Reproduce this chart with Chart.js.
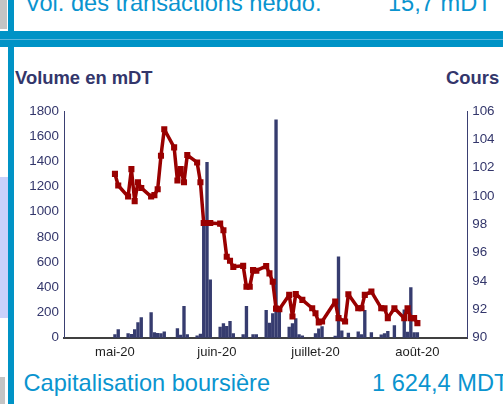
<!DOCTYPE html>
<html>
<head>
<meta charset="utf-8">
<script src="https://cdn.jsdelivr.net/npm/chart.js@4"></script>
<style>
  body { margin: 0; width: 503px; height: 404px; overflow: hidden; background: #fff; position: relative; font-family: "Liberation Sans", Arial, sans-serif; }
  .blk { position: absolute; }
  .txt { position: absolute; white-space: nowrap; line-height: 1; }
  .big { font-size: 23.6px; color: #0a94cf; }
  .ttl { font-size: 18.4px; font-weight: bold; color: #33366b; }
  #chartBox { position: absolute; left: 14px; top: 90px; width: 489px; height: 280px; }
</style>
</head>
<body>
<div class="blk" style="left:0;top:0;width:7px;height:29px;background:#c4c4c4"></div>
<div class="blk" style="left:0;top:177px;width:8px;height:141px;background:#c9d1fb"></div>
<div class="blk" style="left:0;top:377px;width:5px;height:27px;background:#c4c4c4"></div>
<div class="blk" style="left:8px;top:0;width:5.5px;height:404px;background:#0093c6"></div>
<div class="blk" style="left:0;top:31px;width:503px;height:16px;background:#0093c6"></div>
<div class="blk" style="left:0;top:38.5px;width:503px;height:1px;background:#5cb6dc"></div>

<div class="txt big" style="left:25px;top:-8px">Vol. des transactions hebdo.</div>
<div class="txt big" style="left:388px;top:-8px">15,7 mDT</div>
<div class="txt ttl" style="left:15px;top:68.5px">Volume en mDT</div>
<div class="txt ttl" style="left:446px;top:68.5px">Cours</div>
<div class="txt big" style="left:23.5px;top:372px">Capitalisation boursière</div>
<div class="txt big" style="left:372px;top:372px">1 624,4 MDT</div>

<div id="chartBox"><canvas id="chart_volumeCours" width="489" height="280"></canvas></div>

<script>
// trading days, counted from the day under the "mai-20" tick
var volumeDays = [0, 1, 4, 5, 6, 7, 8, 11, 12, 13, 14, 15, 19, 20, 21, 22, 25, 26, 27, 28, 29,
    32, 33, 34, 35, 36, 39, 40, 42, 43, 46, 47, 48, 49, 50, 53, 54, 55, 56, 57, 61, 62, 63,
    67, 68, 69, 71, 74, 75, 76, 78, 81, 82, 83, 85, 88, 89, 90, 91, 92];
var volumes = [25, 65, 33, 26, 65, 120, 160, 199, 40, 35, 32, 47, 72, 20, 249, 25, 15, 28, 920, 1392, 460,
    85, 112, 90, 130, 32, 25, 249, 25, 25, 217, 117, 191, 1730, 204, 85, 112, 151, 25, 15, 32, 70, 88,
    12, 643, 55, 36, 47, 25, 217, 41, 22, 33, 50, 97, 221, 45, 398, 41, 41];

var coursDays = [0, 1, 4, 5, 6, 7, 8, 11, 12, 13, 14, 15, 18, 19, 20, 21, 22, 25, 26, 27, 28, 29,
    32, 33, 34, 35, 36, 39, 40, 41, 42, 43, 46, 47, 48, 49, 50, 53, 54, 55, 57, 60, 61, 62, 63,
    67, 68, 70, 71, 74, 75, 76, 78, 81, 82, 83, 85, 88, 89, 90, 91, 92];
var cours = [101.56, 100.74, 99.96, 101.9, 99.64, 100.97, 100.57, 99.96, 100.06, 100.48, 102.84, 104.71,
    103.43, 101.09, 101.9, 100.97, 102.89, 102.37, 100.97, 98.09, 98.09, 98.09,
    98.05, 97.58, 95.71, 95.43, 95.0, 95.07, 93.6, 93.6, 94.77, 94.73, 95.05, 94.54, 93.95, 92.05, 92.01,
    93.02, 91.5, 93.09, 92.67, 92.08, 91.73, 91.07, 91.14,
    92.55, 91.38, 91.14, 93.07, 92.08, 92.08, 93.02, 93.25, 92.08, 92.08, 91.38, 92.08, 91.38, 92.08,
    91.38, 91.38, 91.03];

var monthDays = [0, 31, 61, 92];
var monthLabels = ['mai-20', 'juin-20', 'juillet-20', 'août-20'];

var volumePoints = volumeDays.map(function (d, i) { return { x: d, y: volumes[i] }; });
var coursPoints = coursDays.map(function (d, i) { return { x: d, y: cours[i] }; });

var chart_volumeCours = new Chart(document.getElementById('chart_volumeCours'), {
    type: 'bar',
    data: {
        datasets: [
            {
                type: 'line',
                label: 'Cours',
                data: coursPoints,
                yAxisID: 'y2',
                borderColor: '#990000',
                backgroundColor: '#990000',
                borderWidth: 3.5,
                borderJoinStyle: 'round',
                borderCapStyle: 'round',
                pointStyle: 'rect',
                pointRadius: 4.3,
                pointBorderWidth: 0,
                pointBackgroundColor: '#990000',
                tension: 0,
                order: 0
            },
            {
                label: 'Volume en mDT',
                data: volumePoints,
                yAxisID: 'y',
                backgroundColor: '#363c6f',
                barThickness: 2.7,
                order: 1
            }
        ]
    },
    options: {
        animation: false,
        responsive: false,
        layout: { padding: { top: 21, bottom: 0, left: 0, right: 0 } },
        plugins: {
            legend: { display: false },
            tooltip: { enabled: false }
        },
        scales: {
            x: {
                type: 'linear',
                position: 'bottom',
                offset: false,
                bounds: 'ticks',
                min: -15.5,
                max: 107.3,
                grid: { display: false, drawTicks: false, offset: false },
                border: { display: true, color: '#404040', width: 2 },
                afterBuildTicks: function (scale) {
                    scale.ticks = monthDays.map(function (d) { return { value: d }; });
                },
                afterFit: function (scale) { scale.height = 32.3; },
                ticks: {
                    autoSkip: false,
                    maxRotation: 0,
                    padding: 7,
                    color: '#1e1e1e',
                    font: { family: 'Liberation Sans', size: 13 },
                    callback: function (value) {
                        var i = monthDays.indexOf(value);
                        return i >= 0 ? monthLabels[i] : '';
                    }
                }
            },
            y: {
                position: 'left',
                min: 0,
                max: 1800,
                grid: { display: false, drawTicks: false },
                border: { display: true, color: '#3a3f72', width: 1 },
                afterFit: function (scale) { scale.width = 50; },
                ticks: {
                    stepSize: 200,
                    padding: 5,
                    color: '#33366b',
                    font: { family: 'Liberation Sans', size: 13.4 },
                    callback: function (value) { return String(value); }
                }
            },
            y2: {
                position: 'right',
                min: 90,
                max: 106,
                grid: { display: false, drawTicks: false },
                border: { display: true, color: '#3a3f72', width: 1 },
                afterFit: function (scale) { scale.width = 35.3; },
                ticks: {
                    stepSize: 2,
                    padding: 4.5,
                    color: '#33366b',
                    font: { family: 'Liberation Sans', size: 13.4 },
                    callback: function (value) { return String(value); }
                }
            }
        }
    }
});
</script>
</body>
</html>
